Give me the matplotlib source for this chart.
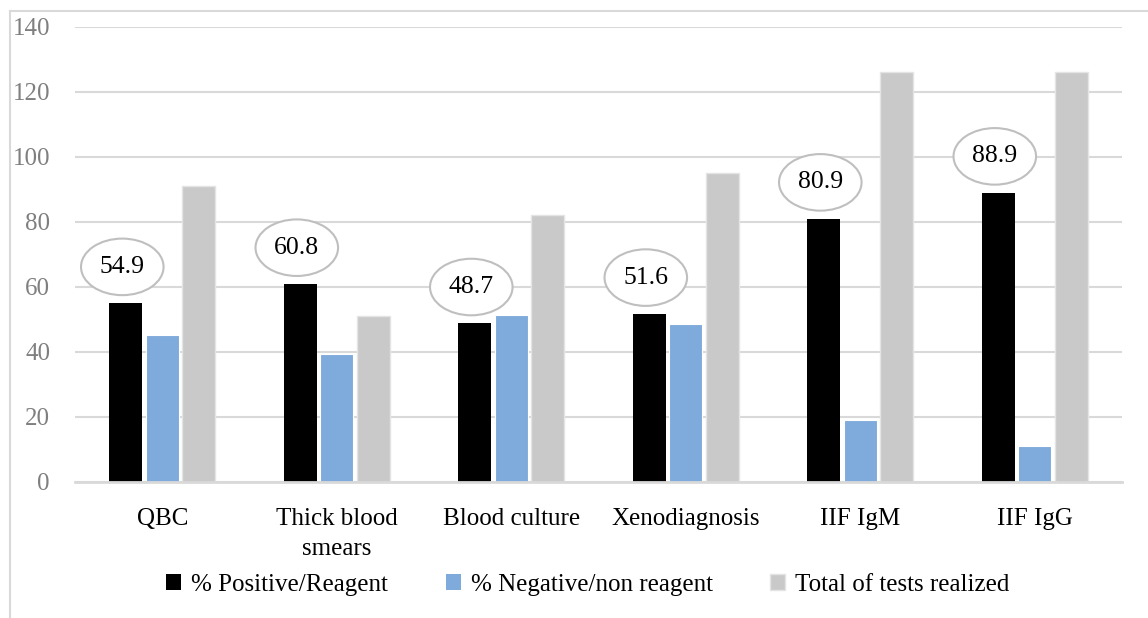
import matplotlib
matplotlib.use('Agg')
import matplotlib.pyplot as plt
import matplotlib.patches as patches
from matplotlib.lines import Line2D
import numpy as np

# data
categories = ['QBC', 'Thick blood\nsmears', 'Blood culture', 'Xenodiagnosis', 'IIF IgM', 'IIF IgG']
positive = [54.9, 60.8, 48.7, 51.6, 80.9, 88.9]
negative = [45.1, 39.2, 51.3, 48.4, 19.1, 11.1]
total = [91, 51, 82, 95, 126, 126]
series_names = ['% Positive/Reagent', '% Negative/non reagent', 'Total of tests realized']
yticks = [0, 20, 40, 60, 80, 100, 120, 140]

plt.rcParams['font.family'] = ['Liberation Serif', 'DejaVu Serif']
fs = 18

W, H = 1148, 618
fig = plt.figure(figsize=(W / 100, H / 100), dpi=100)
ax = fig.add_axes([75 / W, 1 - 481.7 / H, (1122 - 75) / W, (481.7 - 26.7) / H])

x = np.arange(len(categories))
bw = 0.189
step = 0.209
ax.bar(x - step, positive, bw, color='black', zorder=3)
ax.bar(x, negative, bw, color='#7FAADC', edgecolor='white', linewidth=0.8, zorder=3)
ax.bar(x + step, total, bw, color='#C9C9C9', edgecolor='#E4E4E4', linewidth=1.0, zorder=3)

# circled labels over the positive bars
for xi, v in zip(x, positive):
    cx = xi - step - 0.02
    cy = v + 11.2
    ax.add_patch(patches.Ellipse((cx, cy), 0.473, 17.4, facecolor='white',
                                 edgecolor='#BFBFBF', linewidth=1.5, zorder=4))
    ax.text(cx, cy, f'{v}', ha='center', va='center', fontsize=fs + 0.5, color='black', zorder=5)

ax.set_xlim(-0.5, len(categories) - 0.5)
ax.set_ylim(0, 140)
ax.set_yticks(yticks)
ax.set_xticks(x)
ax.set_xticklabels(categories, fontsize=fs, color='black', linespacing=1.45)
ax.tick_params(axis='y', length=0, pad=18, labelsize=fs, labelcolor='#7F7F7F')
ax.tick_params(axis='x', length=0, pad=19)
ax.grid(axis='y', color='#D9D9D9', linewidth=1.5, zorder=0)
ax.set_axisbelow(True)
for s in ['top', 'right', 'left']:
    ax.spines[s].set_visible(False)
ax.spines['bottom'].set_color('#D9D9D9')
ax.spines['bottom'].set_linewidth(2)
ax.spines['bottom'].set_zorder(3.5)

handles = [patches.Patch(facecolor='black'),
           patches.Patch(facecolor='#7FAADC'),
           patches.Patch(facecolor='#C9C9C9', edgecolor='#E4E4E4')]
fig.legend(handles, series_names, loc='center', bbox_to_anchor=(588 / W, 1 - 585 / H),
           ncol=3, frameon=False, fontsize=fs, handlelength=0.6, handleheight=0.6,
           handletextpad=0.4, columnspacing=2.3)

# outer frame
fig.add_artist(Line2D([9.5 / W, 9.5 / W], [0, 1 - 10.5 / H], color='#D9D9D9', linewidth=1.5))
fig.add_artist(Line2D([9.5 / W, 1], [1 - 10.5 / H, 1 - 10.5 / H], color='#D9D9D9', linewidth=1.5))

fig.savefig('out.png', dpi=100)
